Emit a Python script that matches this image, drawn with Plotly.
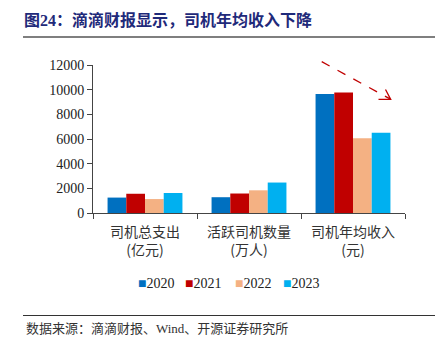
import plotly.graph_objects as go

categories = ["司机总支出<br>(亿元)", "活跃司机数量<br>(万人)", "司机年均收入<br>(元)"]
years = ["2020", "2021", "2022", "2023"]
values = {
    "2020": [1250, 1280, 9640],
    "2021": [1560, 1580, 9780],
    "2022": [1130, 1840, 6070],
    "2023": [1620, 2470, 6500],
}
colors = {"2020": "#0070C0", "2021": "#C00000", "2022": "#F4B183", "2023": "#00B0F0"}

# plot area in pixels
L, R, T, B = 93, 405, 65, 212.7
W, H = R - L, B - T
def px(x):
    return (x - L) / W
def py(y):
    return (B - y) / H

SERIF = "Liberation Serif, Noto Sans CJK SC"

fig = go.Figure()
for yr in years:
    fig.add_trace(go.Bar(x=categories, y=values[yr], name=yr, marker_color=colors[yr],
                         marker_line_width=0, showlegend=False))

fig.update_layout(
    width=440, height=350,
    margin=dict(l=L, r=440 - R, t=T, b=350 - B),
    paper_bgcolor="white", plot_bgcolor="white",
    barmode="group", bargap=0.28, bargroupgap=0,
    font=dict(family=SERIF, size=14, color="#222"),
    title=dict(text="<b>图24：滴滴财报显示，司机年均收入下降</b>", xref="container", yref="container",
               x=24 / 440, y=1 - 20 / 350, xanchor="left", yanchor="middle",
               font=dict(family=SERIF, size=16, color="#1F2A7A")),
)
fig.update_xaxes(showline=True, linecolor="#444", linewidth=1, ticks="outside",
                 tickson="boundaries", ticklen=5, tickcolor="#444", ticklabelstandoff=6,
                 tickfont=dict(family="Noto Sans CJK SC", size=14, color="#333"))
fig.update_yaxes(range=[0, 12000], dtick=2000, showline=True, linecolor="#444", linewidth=1,
                 ticks="outside", ticklen=5, tickcolor="#444", showgrid=False, zeroline=False,
                 tickformat="d", tickfont=dict(family="Liberation Serif", size=14, color="#222"))

# custom compact legend
leg_x = [136, 183, 233, 281]
for i, yr in enumerate(years):
    fig.add_annotation(text=f"<span style='color:{colors[yr]}'>■</span>{yr}", xref="paper", yref="paper",
                       x=px(leg_x[i]), y=py(282.7), xanchor="left", yanchor="middle", showarrow=False,
                       font=dict(family=SERIF, size=14, color="#222"))

# dashed arrow showing downward trend (paper coords so it is not clipped)
fig.add_shape(type="line", xref="paper", yref="paper", x0=px(321.7), y0=py(61.7), x1=px(390), y1=py(98.8),
              line=dict(color="#C00000", width=1.3, dash="dash"))
head = f"M {px(385.5)} {py(89.5)} L {px(390.7)} {py(99.3)} L {px(378.5)} {py(99.3)}"
fig.add_shape(type="path", xref="paper", yref="paper", path=head,
              line=dict(color="#C00000", width=1.3))

# header / footer lines
fig.add_shape(type="line", xref="paper", yref="paper", x0=px(23), x1=px(435), y0=py(37), y1=py(37),
              line=dict(color="#555", width=1.5))
fig.add_shape(type="line", xref="paper", yref="paper", x0=px(23), x1=px(435), y0=py(315), y1=py(315),
              line=dict(color="#333", width=1))
fig.add_annotation(text="数据来源：滴滴财报、Wind、开源证券研究所", xref="paper", yref="paper",
                   x=px(24), y=py(328), xanchor="left", yanchor="middle", showarrow=False,
                   font=dict(family=SERIF, size=13, color="#333"))

fig.write_html("out.html")
